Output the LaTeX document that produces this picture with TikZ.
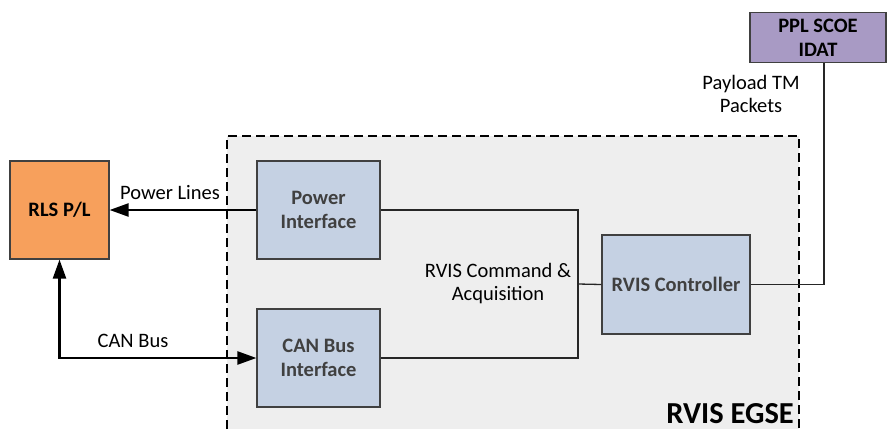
\documentclass[tikz,border=0pt]{standalone}
\usepackage{fontspec}
\setmainfont{Carlito}
\usetikzlibrary{arrows.meta}
\definecolor{rlsorange}{RGB}{247,160,92}
\definecolor{ifblue}{RGB}{197,209,227}
\definecolor{pplpurple}{RGB}{168,154,196}
\definecolor{egsegray}{RGB}{238,238,238}
\definecolor{edgegray}{RGB}{64,64,64}
\begin{document}
\begin{tikzpicture}[x=1pt,y=-1pt,
  blockbox/.style={draw=edgegray,line width=1.2pt,rectangle,inner sep=2pt,align=center,
    font=\fontsize{20.5}{24}\selectfont\bfseries},
  lbl/.style={align=center,inner sep=0pt,font=\fontsize{20.5}{23}\selectfont},
  thin/.style={draw=black!85,line width=1.3pt},
  thickarrow/.style={draw=black,line width=2.4pt,-{Triangle[length=19pt,width=13pt]}},
  thickdouble/.style={draw=black,line width=2.4pt,{Triangle[length=19pt,width=13pt]}-{Triangle[length=19pt,width=13pt]}}]
\useasboundingbox (0,0) rectangle (887,429);
% EGSE region
\fill[egsegray] (227,136) rectangle (799,429);
\draw[black,line width=1.2pt,dash pattern=on 9pt off 5pt] (227,429) -- (227,136) -- (799,136) -- (799,429);
\node[anchor=base east,inner sep=0pt,font=\fontsize{30.5}{34}\selectfont\bfseries] (egse) at (794,423) {RVIS EGSE};
% blocks
\node[blockbox,fill=rlsorange,minimum width=99pt,minimum height=98pt] (rls) at (59.5,210) {RLS P/L};
\node[blockbox,fill=ifblue,text=edgegray,minimum width=123pt,minimum height=98pt] (pwr) at (318.5,210) {Power\\Interface};
\node[blockbox,fill=ifblue,text=edgegray,minimum width=123pt,minimum height=98pt] (can) at (318.5,358) {CAN Bus\\Interface};
\node[blockbox,fill=ifblue,text=edgegray,minimum width=148pt,minimum height=99pt] (ctl) at (676,284.5) {RVIS Controller};
\node[blockbox,fill=pplpurple,minimum width=136pt,minimum height=50pt] (ppl) at (818,37.7) {PPL SCOE\\IDAT};
% connectors
\coordinate (j) at (578,284);
\draw[thin] (pwr.east) -| (j) |- (can.east);
\draw[thin] (j) -- (ctl.west);
\draw[thin] (ctl.east) -| ([xshift=6pt]ppl.south);
\draw[thickarrow] (pwr.west) -- (rls.east);
\draw[thickdouble] (rls.south) |- (can.west);
% labels
\node[lbl] (lpl) at (170,193) {Power Lines};
\node[lbl] (lcan) at (133,341) {CAN Bus};
\node[lbl] (lcmd) at (498,284) {RVIS Command \&\\Acquisition};
\node[lbl] (ltm) at (751,94) {Payload TM\\Packets};
\end{tikzpicture}
\end{document}
